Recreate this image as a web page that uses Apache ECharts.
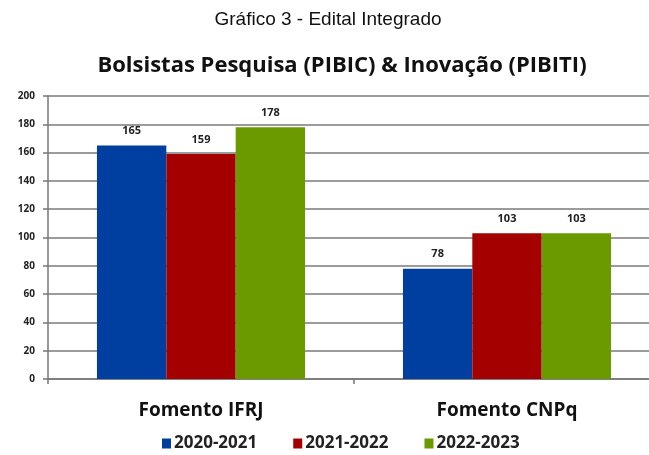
<!DOCTYPE html>
<html>
<head>
<meta charset="utf-8">
<script src="https://cdn.jsdelivr.net/npm/echarts@6/dist/echarts.min.js"></script>
<style>
  html, body { margin: 0; padding: 0; background: #fff; }
  #main { width: 649px; height: 455px; }
</style>
</head>
<body>
<div id="main"></div>
<script>
var categories = ['Fomento IFRJ', 'Fomento CNPq'];
var seriesNames = ['2020-2021', '2021-2022', '2022-2023'];
var v2020 = [165, 78];
var v2021 = [159, 103];
var v2022 = [178, 103];
var colors = ['#003f9f', '#a50000', '#6a9a00'];

var myChart = echarts.init(document.getElementById('main'));
var labelStyle = {
    show: true,
    position: 'top',
    distance: 9,
    fontFamily: 'Open Sans',
    fontWeight: 'bold',
    fontSize: 11,
    color: '#222'
};
var option = {
    animation: false,
    title: [{
        text: 'Gráfico 3 - Edital Integrado',
        left: 323, top: 5, textAlign: 'center',
        textStyle: { fontFamily: 'Liberation Sans', fontWeight: 'normal', fontSize: 19, color: '#111' }
    }, {
        text: 'Bolsistas Pesquisa (PIBIC) & Inovação (PIBITI)',
        left: 337, top: 50, textAlign: 'center',
        textStyle: { fontFamily: 'Open Sans', fontWeight: 'bold', fontSize: 22, color: '#111' }
    }],
    legend: {
        data: seriesNames,
        top: 430,
        left: 157,
        itemWidth: 9,
        itemHeight: 10,
        itemGap: 36,
        icon: 'rect',
        textStyle: { fontFamily: 'Open Sans', fontWeight: 'bold', fontSize: 17, color: '#222', padding: [0, 0, 0, -2] }
    },
    grid: { left: 48, width: 612, top: 96, bottom: 76, outerBoundsMode: 'none' },
    xAxis: {
        type: 'category',
        data: categories,
        axisLine: { lineStyle: { color: '#777', width: 1.5 } },
        axisTick: { show: true, length: 5, lineStyle: { color: '#777', width: 1.5 } },
        axisLabel: { margin: 22, fontFamily: 'Open Sans', fontWeight: 'bold', fontSize: 19, color: '#111' }
    },
    yAxis: {
        type: 'value',
        min: 0, max: 200, interval: 20,
        axisLine: { show: true, lineStyle: { color: '#777', width: 1.5 } },
        axisTick: { show: true, length: 5, lineStyle: { color: '#777', width: 1.5 } },
        splitLine: { lineStyle: { color: '#7a7a7a', width: 1.5 } },
        axisLabel: { margin: 13, fontFamily: 'Open Sans', fontWeight: 'bold', fontSize: 10, color: '#222' }
    },
    series: [
        { name: seriesNames[0], type: 'bar', data: v2020, itemStyle: { color: colors[0] }, barGap: '0%', barCategoryGap: '32%', label: labelStyle },
        { name: seriesNames[1], type: 'bar', data: v2021, itemStyle: { color: colors[1] }, label: labelStyle },
        { name: seriesNames[2], type: 'bar', data: v2022, itemStyle: { color: colors[2] }, label: labelStyle }
    ]
};
myChart.setOption(option);
</script>
</body>
</html>
